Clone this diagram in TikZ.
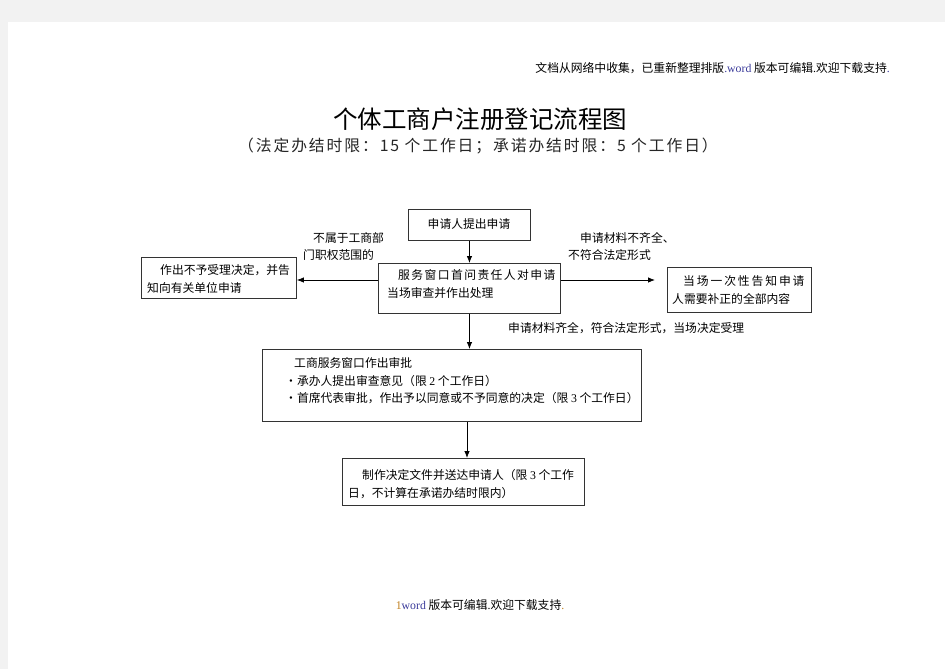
\documentclass[tikz,border=0pt]{standalone}
\usepackage{fontspec}
\setmainfont{Liberation Serif}
\newfontfamily\cjk{Noto Sans CJK SC}
\newfontfamily\cjkwide{Noto Sans CJK SC}[LetterSpace=12]
\newfontfamily\cjkwider{Noto Sans CJK SC}[LetterSpace=16]
\usetikzlibrary{arrows.meta}
\definecolor{pagebg}{HTML}{F2F2F2}
\definecolor{wordblue}{HTML}{3A3A9A}
\definecolor{wordorange}{HTML}{C08020}
\begin{document}
\begin{tikzpicture}[x=1pt,y=-1pt,
  box/.style={draw=black!80, line width=0.9pt, anchor=north west, inner sep=0pt},
  txt/.style={font=\cjk\fontsize{11.8}{18}\selectfont, inner sep=0pt, anchor=west},
  arr/.style={-{Latex[length=7pt,width=5.5pt]}, line width=0.8pt}]
\fill[pagebg] (0,0) rectangle (945,669);
\fill[white] (8,22) rectangle (945,669);
\useasboundingbox (0,0) rectangle (945,669);

% header / footer
\node[txt, anchor=east] (hdr) at (890,68) {文档从网络中收集，已重新整理排版{\color{wordblue}\rmfamily .word} 版本可编辑{\rmfamily .}欢迎下载支持{\color{wordblue}\rmfamily .}};
\node[txt, anchor=center] (ftr) at (480,605) {{\color{wordorange}\rmfamily 1}{\color{wordblue}\rmfamily word} 版本可编辑{\rmfamily .}欢迎下载支持{\color{wordorange}\rmfamily .}};

% title
\node[font=\cjk\fontsize{24.5}{28}\selectfont, inner sep=0pt] (title) at (480,119) {个体工商户注册登记流程图};
\node[font=\cjkwide\fontsize{15.8}{18}\selectfont, inner sep=0pt, text=black!85] (sub) at (478,146) {（法定办结时限：15 个工作日；承诺办结时限：5 个工作日）};

% boxes
\node[box, minimum width=122pt, minimum height=31pt] (a) at (408,209) {};
\node[box, minimum width=182pt, minimum height=50pt] (b) at (378,263) {};
\node[box, minimum width=155pt, minimum height=41pt] (l) at (141,257) {};
\node[box, minimum width=144pt, minimum height=45pt] (r) at (667,267) {};
\node[box, minimum width=379pt, minimum height=72pt] (c) at (262,349) {};
\node[box, minimum width=242pt, minimum height=47pt] (d) at (342,458) {};

% box texts
\node[txt, anchor=center] (ta) at (469,224) {申请人提出申请};
\node[txt, font=\cjkwide\fontsize{11.8}{18}\selectfont] (tb1) at (398,275) {服务窗口首问责任人对申请};
\node[txt] (tb2) at (387,293) {当场审查并作出处理};
\node[txt] (tl1) at (160,270) {作出不予受理决定，并告};
\node[txt] (tl2) at (147,288) {知向有关单位申请};
\node[txt, font=\cjkwider\fontsize{11.8}{18}\selectfont] (tr1) at (683,281) {当场一次性告知申请};
\node[txt] (tr2) at (672,299) {人需要补正的全部内容};
\node[txt] (tc1) at (294,363) {工商服务窗口作出审批};
\node[txt] (tc2) at (285,381) {·承办人提出审查意见（限 {\rmfamily 2} 个工作日）};
\node[txt] (tc3) at (285,398) {·首席代表审批，作出予以同意或不予同意的决定（限 {\rmfamily 3} 个工作日）};
\node[txt] (td1) at (362,475) {制作决定文件并送达申请人（限 {\rmfamily 3} 个工作};
\node[txt] (td2) at (348,493) {日，不计算在承诺办结时限内）};

% connector labels
\node[txt] (la1) at (313,238) {不属于工商部};
\node[txt] (la2) at (303,255) {门职权范围的};
\node[txt] (lb1) at (580,238) {申请材料不齐全、};
\node[txt] (lb2) at (568,255) {不符合法定形式};
\node[txt] (lc) at (508,328) {申请材料齐全，符合法定形式，当场决定受理};

% connectors
\coordinate (ly) at (0,280);
\coordinate (mx) at (467,0);
\draw[arr] (a.south) -- (b.north);
\draw[arr] (ly -| b.west) -- (ly -| l.east);
\draw[arr, shorten >=12pt] (ly -| b.east) -- (ly -| r.west);
\draw[arr] (b.south) -- (b.south |- c.north);
\draw[arr] (mx |- c.south) -- (mx |- d.north);
\end{tikzpicture}
\end{document}
